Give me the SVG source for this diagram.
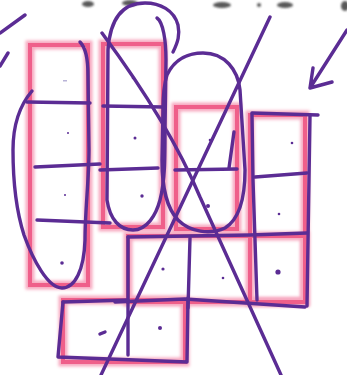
<svg xmlns="http://www.w3.org/2000/svg" width="347" height="375" viewBox="0 0 347 375">
<defs>
<filter id="glow" x="-20%" y="-20%" width="140%" height="140%"><feGaussianBlur stdDeviation="1.6"/></filter>
<filter id="soft" x="-50%" y="-50%" width="200%" height="200%"><feGaussianBlur stdDeviation="1.2"/></filter>
</defs>
<style>
.halo{fill:none;stroke:#f7a9c0;stroke-width:9;filter:url(#glow)}
.pink{fill:none;stroke:#ef5f8a;stroke-width:4}
.ink{fill:none;stroke:#5b2c94;stroke-width:3.4;stroke-linecap:round;stroke-linejoin:round}
.dot{fill:#5b2c94}
.smudge{fill:#3a3a3a;filter:url(#soft)}
</style>
<rect width="347" height="375" fill="#ffffff"/>
<g id="top-smudges" opacity="0.85">
<ellipse class="smudge" cx="88" cy="4" rx="6" ry="3"/>
<ellipse class="smudge" cx="130" cy="3" rx="8" ry="3"/>
<ellipse class="smudge" cx="222" cy="5" rx="9" ry="3"/>
<ellipse class="smudge" cx="259" cy="5" rx="2" ry="2"/>
<ellipse class="smudge" cx="285" cy="5" rx="8" ry="3"/>
<ellipse class="smudge" cx="345" cy="6" rx="4" ry="5"/>
</g>
<g id="pink-boxes">
<rect class="halo" x="30" y="45" width="58" height="240"/>
<rect class="halo" x="103" y="44" width="60" height="183"/>
<rect class="halo" x="176" y="107" width="61" height="122"/>
<rect class="halo" x="250" y="115" width="55" height="187"/>
<rect class="halo" x="128" y="236" width="177" height="66"/>
<rect class="halo" x="63" y="300" width="122" height="62"/>
<rect class="pink" x="30" y="45" width="58" height="240"/>
<rect class="pink" x="103" y="44" width="60" height="183"/>
<rect class="pink" x="176" y="107" width="61" height="122"/>
<rect class="pink" x="250" y="115" width="55" height="187"/>
<rect class="pink" x="128" y="236" width="177" height="66"/>
<rect class="pink" x="63" y="300" width="122" height="62"/>
</g>
<g id="connectors">
<path class="ink" d="M25,15 L0,33"/>
<path class="ink" d="M8,53 L0,66"/>
<path class="ink" d="M80,42 C86,48 88,60 88,75 L89,150 C89,180 85,210 85,240 C84,270 75,288 62,288 C48,288 33,260 24,235 C16,210 13,180 13,150 C13,125 20,105 32,91"/>
<path class="ink" d="M27,102 L90,103"/>
<path class="ink" d="M35,167 L100,164"/>
<path class="ink" d="M37,220 L110,223"/>
<path class="ink" d="M173,52 C178,42 180,35 178,25 C174,10 160,3 145,3 C122,3 110,20 108,50 L107,200 C110,220 120,230 133,230 C147,230 156,215 160,200 C165,180 165,160 165,130 L166,60 C166,40 163,22 157,18"/>
<path class="ink" d="M103,106 L163,107"/>
<path class="ink" d="M100,170 L158,168"/>
<path class="ink" d="M167,75 C175,58 190,53 203,53 C225,53 238,70 240,90 L245,170 C245,200 238,220 225,228 C210,235 190,232 178,220 C167,208 162,190 162,160 L163,110 C163,95 164,84 167,75"/>
<path class="ink" d="M234,132 L229,168"/>
<path class="ink" d="M175,170 L237,169"/>
<path class="ink" d="M102,33 Q170,125 200,197 L281,375"/>
<path class="ink" d="M270,17 L101,375"/>
<path class="ink" d="M252,113 L318,115"/>
<path class="ink" d="M310,116 L307,306"/>
<path class="ink" d="M252,114 L253,180 L257,300"/>
<path class="ink" d="M255,177 L307,173"/>
<path class="ink" d="M128,237 L250,235 L307,233"/>
<path class="ink" d="M128,237 L128,355"/>
<path class="ink" d="M190,238 L188,308"/>
<path class="ink" d="M115,302 L185,299 L305,307"/>
<path class="ink" d="M63,302 L128,300"/>
<path class="ink" d="M63,302 L58,357 L187,362 L188,298"/>
<path class="ink" d="M347,30 L310,88 M313,68 L310,88 L332,82"/>
</g>
<g id="dots">
<rect x="63" y="80" width="4" height="1.5" fill="#b9b4d8"/>
<circle class="dot" cx="68" cy="133" r="1"/>
<circle class="dot" cx="65" cy="195" r="1"/>
<circle class="dot" cx="62" cy="263" r="1.8"/>
<circle class="dot" cx="133" cy="78" r="1.3"/>
<circle class="dot" cx="135" cy="138" r="1.5"/>
<circle class="dot" cx="142" cy="196" r="1.7"/>
<circle class="dot" cx="210" cy="140" r="1.3"/>
<circle class="dot" cx="208" cy="206" r="2"/>
<circle class="dot" cx="292" cy="143" r="1.3"/>
<circle class="dot" cx="279" cy="214" r="1.3"/>
<circle class="dot" cx="163" cy="269" r="1.6"/>
<circle class="dot" cx="223" cy="278" r="1.3"/>
<circle class="dot" cx="278" cy="272" r="2.6"/>
<path class="ink" d="M100,334 L105,332"/>
<circle class="dot" cx="160" cy="328" r="2"/>
</g>
</svg>
